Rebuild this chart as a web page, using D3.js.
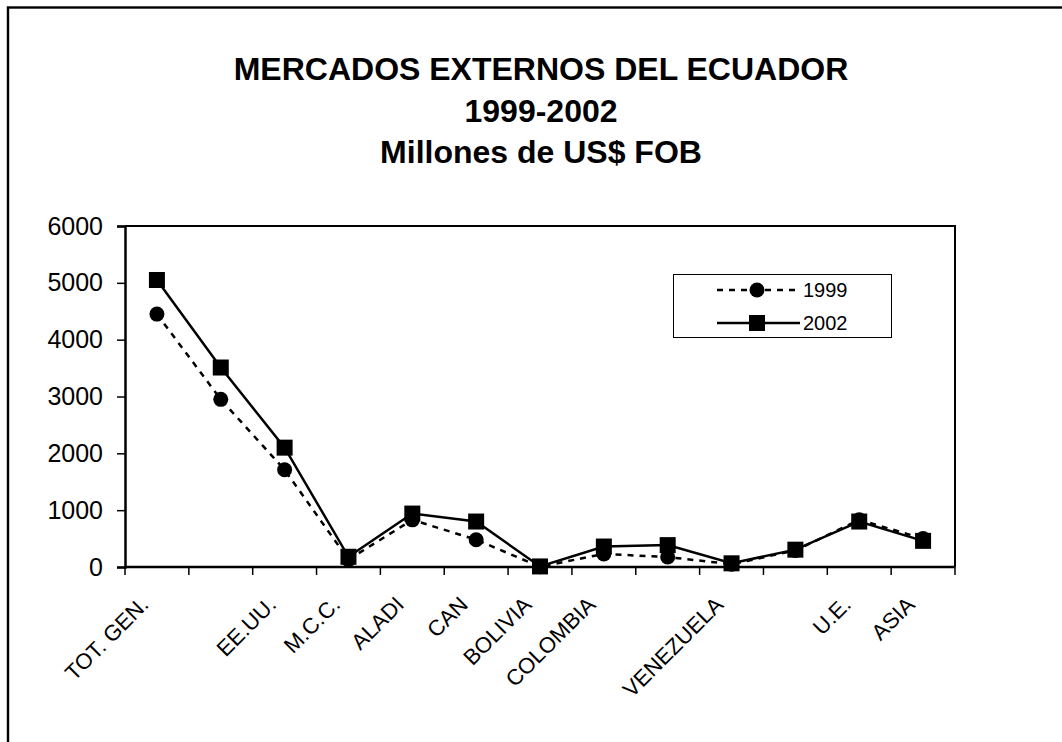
<!DOCTYPE html>
<html>
<head>
<meta charset="utf-8">
<script src="https://cdn.jsdelivr.net/npm/d3@7"></script>
<style>
  html, body { margin: 0; padding: 0; background: #fff; }
  svg { display: block; font-family: "Liberation Sans", Arial, sans-serif; }
</style>
</head>
<body>
<svg id="chart" width="1062" height="742"></svg>
<script>
// ---- data ----
const categories = ["TOT. GEN.", "", "EE.UU.", "M.C.C.", "ALADI", "CAN", "BOLIVIA", "COLOMBIA", "", "VENEZUELA", "", "U.E.", "ASIA"];
const values1999 = [4450, 2950, 1710, 130, 830, 480, 5, 230, 175, 50, 290, 830, 500];
const values2002 = [5050, 3510, 2100, 180, 940, 800, 10, 360, 385, 65, 305, 800, 460];
const yTicks = [0, 1000, 2000, 3000, 4000, 5000, 6000];
const titleLines = ["MERCADOS EXTERNOS DEL ECUADOR", "1999-2002", "Millones de US$ FOB"];
const seriesNames = ["1999", "2002"];

(function () {
const svg = d3.select("#chart");

// outer border
svg.append("rect").attr("x", 8).attr("y", 7.5).attr("width", 1200).attr("height", 900)
  .attr("fill", "none").attr("stroke", "#000").attr("stroke-width", 2.4);

// title
svg.append("g").selectAll("text").data(titleLines).join("text")
  .attr("x", 541).attr("y", (d, i) => 80 + i * 41.5)
  .attr("text-anchor", "middle").attr("font-weight", "bold").attr("font-size", 32)
  .text(d => d);

const pL = 125, pR = 955, pT = 226, pB = 567;
const idx = d3.range(categories.length);
const x = d3.scaleBand().domain(idx).range([pL, pR]);
const y = d3.scaleLinear().domain([0, 6000]).range([pB, pT]);
const cx = i => x(i) + x.bandwidth() / 2;

// plot border (top, right)
svg.append("path").attr("d", `M${pL},${pT}H${pR}V${pB}`)
  .attr("fill", "none").attr("stroke", "#000").attr("stroke-width", 2);

// y axis
const yAxis = svg.append("g").attr("transform", `translate(${pL},0)`)
  .call(d3.axisLeft(y).tickValues(yTicks).tickSize(8).tickPadding(14).tickFormat(d3.format("d")));
yAxis.select(".domain").attr("stroke-width", 2.5);
yAxis.selectAll(".tick line").attr("stroke-width", 1.5);
yAxis.selectAll("text").attr("font-size", 25).attr("fill", "#000")
  .attr("font-family", "'Liberation Sans', Arial, sans-serif");

// x axis (ticks at band boundaries)
const xTickPos = d3.range(categories.length + 1).map(i => pL + i * x.step());
const xg = svg.append("g");
xg.append("line").attr("x1", pL).attr("x2", pR).attr("y1", pB).attr("y2", pB)
  .attr("stroke", "#000").attr("stroke-width", 2.5);
xg.selectAll("line.t").data(xTickPos).join("line").attr("class", "t")
  .attr("x1", d => d).attr("x2", d => d).attr("y1", pB).attr("y2", pB + 8)
  .attr("stroke", "#000").attr("stroke-width", 1.5);
xg.selectAll("text").data(idx).join("text")
  .attr("transform", i => `translate(${cx(i) - 7},${pB + 39}) rotate(-45)`)
  .attr("text-anchor", "end").attr("font-size", 22)
  .text(i => categories[i]);

// lines
const line = d3.line().x((d, i) => cx(i)).y(d => y(d));
svg.append("path").datum(values1999).attr("d", line)
  .attr("fill", "none").attr("stroke", "#000").attr("stroke-width", 2.5).attr("stroke-dasharray", "6,6");
svg.append("path").datum(values2002).attr("d", line)
  .attr("fill", "none").attr("stroke", "#000").attr("stroke-width", 2.5);

// markers
svg.append("g").selectAll("circle").data(values1999).join("circle")
  .attr("cx", (d, i) => cx(i)).attr("cy", d => y(d)).attr("r", 7.5).attr("fill", "#000");
svg.append("g").selectAll("rect").data(values2002).join("rect")
  .attr("x", (d, i) => cx(i) - 8).attr("y", d => y(d) - 8).attr("width", 16).attr("height", 16).attr("fill", "#000");

// legend
const lg = svg.append("g");
lg.append("rect").attr("x", 673.5).attr("y", 274.5).attr("width", 218).attr("height", 63)
  .attr("fill", "#fff").attr("stroke", "#000").attr("stroke-width", 1);
const ly = [290, 323];
lg.append("line").attr("x1", 717).attr("x2", 800).attr("y1", ly[0]).attr("y2", ly[0])
  .attr("stroke", "#000").attr("stroke-width", 2.5).attr("stroke-dasharray", "6,6");
lg.append("circle").attr("cx", 757).attr("cy", ly[0]).attr("r", 7.5).attr("fill", "#000");
lg.append("line").attr("x1", 717).attr("x2", 800).attr("y1", ly[1]).attr("y2", ly[1])
  .attr("stroke", "#000").attr("stroke-width", 2.5);
lg.append("rect").attr("x", 757 - 8).attr("y", ly[1] - 8).attr("width", 16).attr("height", 16).attr("fill", "#000");
lg.selectAll("text").data(seriesNames).join("text")
  .attr("x", 803).attr("y", (d, i) => ly[i] + 7).attr("font-size", 20).text(d => d);
})();
</script>
</body>
</html>
